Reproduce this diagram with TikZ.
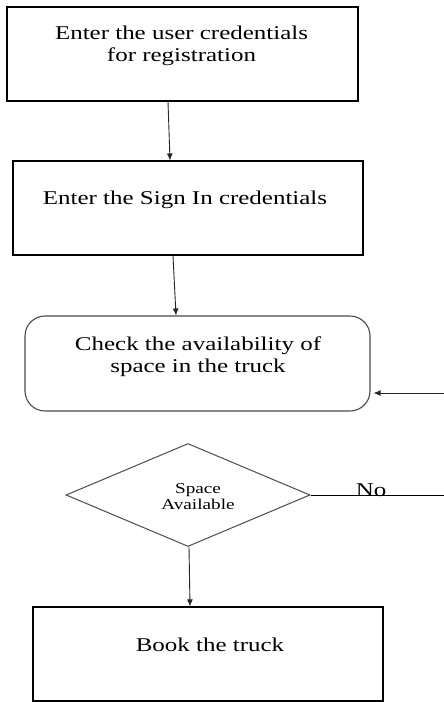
\documentclass[tikz,border=0pt]{standalone}
\usepackage{fontspec}
\setmainfont[FakeStretch=1.28]{Liberation Serif}
\usetikzlibrary{shapes.geometric,arrows.meta}

\begin{document}
\begin{tikzpicture}[x=1pt,y=-1pt,
        box/.style={draw,line width=1.1pt,minimum width=350pt,minimum height=94pt,inner sep=0pt},
        txt/.style={inner sep=0pt,align=center,font=\fontsize{19.5}{21.5}\selectfont},
        arr/.style={-{Latex[length=7pt,width=6pt]},line width=0.9pt,draw=black!85}]
    \useasboundingbox (0,0) rectangle (444,702);
    \fill[white] (0,0) rectangle (444,702);
    \node[box,minimum width=351pt] (reg) at (182.5,54) {};
    \node[txt,anchor=north] (regtext) at (181.5,26) {Enter the user credentials\\for registration};
    \node[box] (sign) at (188,208) {};
    \node[txt,anchor=base] (signtext) at (185,204.3) {Enter the Sign In credentials};
    \node[box,draw=black!70,rounded corners=20pt,minimum width=345pt,minimum height=95pt] (check) at (197.5,363.5) {};
    \node[txt,anchor=north] (checktext) at (198,337) {Check the availability of\\space in the truck};
    \node[diamond,draw=black!70,line width=1pt,minimum width=244pt,minimum height=103pt,inner sep=0pt] (space) at (188,495) {};
    \node[txt,anchor=north,font=\fontsize{15}{15.5}\selectfont] (spacetext) at (198,483.5) {Space\\Available};
    \node[box] (book) at (208,654) {};
    \node[txt,anchor=base] (booktext) at (210,651.7) {Book the truck};
    \coordinate (noend) at (444,495);
    \coordinate (back) at (444,393);
    \draw[arr] ([xshift=-14.5pt]reg.south) -- ([xshift=-18pt]sign.north);
    \draw[arr] ([xshift=-15pt]sign.south) -- ([xshift=-21.5pt]check.north);
    \draw[arr] ([xshift=1pt]space.south) -- ([xshift=-18pt]book.north);
    \draw[line width=0.9pt] (space.east) -- (noend);
    \node[txt,anchor=base] (no) at (371,496.7) {No};
    \draw[arr] (back) -- ([xshift=3pt,yshift=-29.5pt]check.east);
\end{tikzpicture}
\end{document}
